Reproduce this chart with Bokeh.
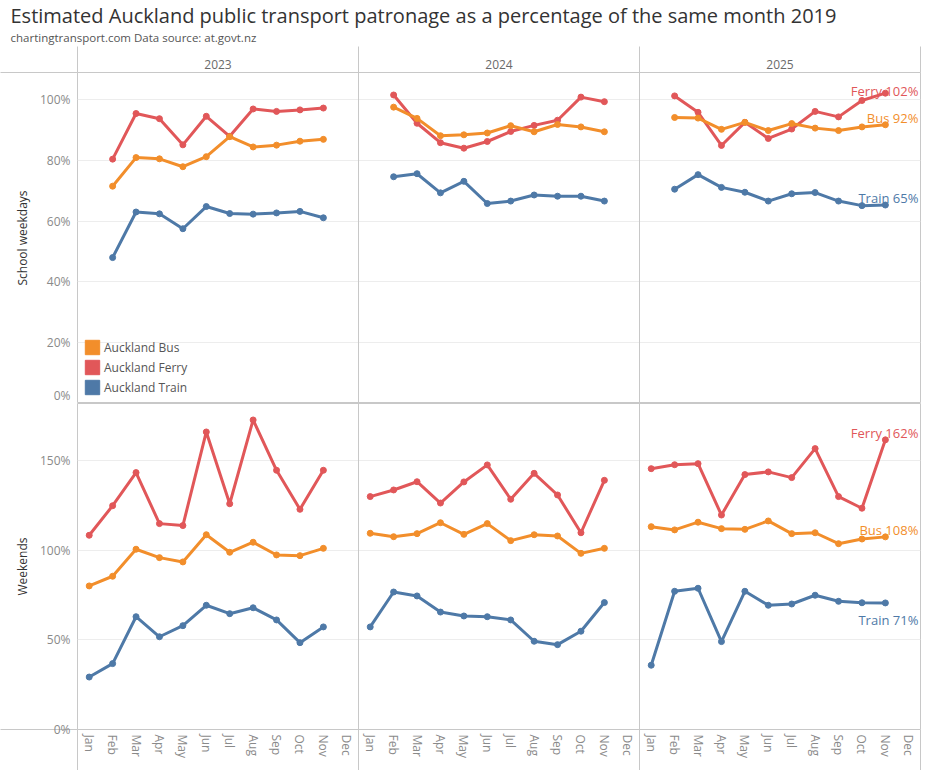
import math
from bokeh.plotting import figure
from bokeh.layouts import column
from bokeh.models import ColumnDataSource, FixedTicker, LinearAxis, Span, Title, Legend, LegendItem, Range1d
from bokeh.embed import file_html
from bokeh.resources import INLINE
from bokeh.core.properties import value

nan = float("nan")

years = ["2023", "2024", "2025"]
months = ["Jan", "Feb", "Mar", "Apr", "May", "Jun", "Jul", "Aug", "Sep", "Oct", "Nov", "Dec"]
modes = ["Bus", "Ferry", "Train"]
legend_names = ["Auckland Bus", "Auckland Ferry", "Auckland Train"]
colors = {"Bus": "#F28E2B", "Ferry": "#E15759", "Train": "#4E79A7"}

school_ticks = [0, 20, 40, 60, 80, 100]
weekend_ticks = [0, 50, 100, 150]

# School weekdays, % of same month 2019 (per year: Jan..Dec)
school_bus = [
    [nan, 71.5, 80.9, 80.5, 77.9, 81.2, 87.8, 84.4, 85.0, 86.3, 86.9, nan],
    [nan, 97.5, 93.8, 88.1, 88.4, 89.0, 91.4, 89.4, 91.8, 91.0, 89.4, nan],
    [nan, 94.1, 93.9, 90.2, 92.5, 89.8, 92.1, 90.6, 89.8, 91.0, 91.7, nan],
]
school_ferry = [
    [nan, 80.4, 95.4, 93.7, 85.1, 94.5, 87.9, 96.9, 96.1, 96.6, 97.2, nan],
    [nan, 101.5, 92.2, 85.8, 84.0, 86.2, 89.5, 91.5, 93.2, 100.8, 99.3, nan],
    [nan, 101.2, 95.8, 84.9, 92.5, 87.2, 90.3, 96.1, 94.3, 99.7, 102.1, nan],
]
school_train = [
    [nan, 48.0, 63.0, 62.4, 57.5, 64.8, 62.5, 62.3, 62.7, 63.2, 61.1, nan],
    [nan, 74.6, 75.6, 69.3, 73.1, 65.8, 66.6, 68.6, 68.2, 68.2, 66.6, nan],
    [nan, 70.5, 75.3, 71.1, 69.5, 66.6, 69.0, 69.4, 66.6, 65.1, 65.3, nan],
]

# Weekends, % of same month 2019
weekend_bus = [
    [80.2, 85.6, 100.7, 96.0, 93.6, 108.8, 99.0, 104.6, 97.5, 97.1, 101.2, nan],
    [109.6, 107.7, 109.4, 115.5, 109.0, 115.0, 105.5, 108.8, 108.1, 98.4, 101.2, nan],
    [113.3, 111.5, 115.8, 112.2, 111.8, 116.5, 109.4, 109.9, 103.8, 106.4, 107.6, nan],
]
weekend_ferry = [
    [108.5, 125.0, 143.5, 115.0, 113.9, 166.2, 126.1, 172.9, 144.8, 123.0, 144.8, nan],
    [130.1, 133.8, 138.4, 126.5, 138.3, 147.8, 128.6, 143.1, 131.0, 109.9, 139.2, nan],
    [145.7, 147.9, 148.5, 119.8, 142.4, 143.9, 140.7, 156.9, 130.1, 123.6, 161.8, nan],
]
weekend_train = [
    [29.3, 36.8, 63.0, 51.8, 58.0, 69.4, 64.7, 68.0, 61.2, 48.5, 57.3, nan],
    [57.3, 76.8, 74.6, 65.6, 63.4, 63.0, 61.2, 49.3, 47.4, 54.9, 70.9, nan],
    [35.9, 77.2, 78.9, 49.1, 77.2, 69.4, 70.1, 75.0, 71.6, 70.8, 70.7, nan],
]

school = {"Bus": school_bus, "Ferry": school_ferry, "Train": school_train}
weekend = {"Bus": weekend_bus, "Ferry": weekend_ferry, "Train": weekend_train}

FONT = "Open Sans"
GRID = "#c8c8c8"
W = 922
NX = len(years) * len(months)
LEFT = 77
BOTTOM = 41


def pos(yi, mi):
    return yi * len(months) + mi + 0.5


def style_y(fig, ticks, minor, label):
    ax = fig.yaxis[0]
    ax.ticker = FixedTicker(ticks=ticks, minor_ticks=minor)
    ax.major_label_overrides = {t: f"{t}%" for t in ticks}
    ax.major_tick_line_color = None
    ax.major_tick_out = 0
    ax.major_tick_in = 0
    ax.minor_tick_in = 0
    ax.minor_tick_out = LEFT
    ax.minor_tick_line_color = GRID
    ax.axis_line_color = None
    ax.major_label_standoff = 7 - LEFT
    ax.major_label_text_font = FONT
    ax.major_label_text_font_size = "12px"
    ax.major_label_text_color = "#8a8a8a"
    ax.axis_label = label
    ax.axis_label_text_font = FONT
    ax.axis_label_text_font_size = "12px"
    ax.axis_label_text_font_style = "normal"
    ax.axis_label_text_color = "#333333"
    ax.axis_label_standoff = 6
    fig.ygrid.grid_line_color = "#ededed"
    fig.xgrid.grid_line_color = None
    fig.outline_line_color = GRID
    for loc in (12, 24):
        fig.add_layout(Span(location=loc, dimension="height", line_color=GRID, line_width=1))


def draw(fig, series):
    for mode in ["Train", "Ferry", "Bus"]:
        for yi, vals in enumerate(series[mode]):
            src = ColumnDataSource(dict(x=[pos(yi, mi) for mi in range(len(months))], y=vals))
            fig.line("x", "y", source=src, line_width=3, line_color=colors[mode], line_join="round")
            fig.scatter("x", "y", source=src, size=6, color=colors[mode])


def end_labels(fig, series, yoffs):
    d = dict(x=[], y=[], text=[], color=[], yoff=[])
    for mode in modes:
        vals = series[mode][-1]
        idx = max(i for i, v in enumerate(vals) if not math.isnan(v))
        d["x"].append(pos(len(years) - 1, idx))
        d["y"].append(vals[idx])
        d["text"].append(f"{mode} {round(vals[idx])}%")
        d["color"].append(colors[mode])
        d["yoff"].append(yoffs[mode])
    fig.text(x="x", y="y", text="text", source=ColumnDataSource(d), text_color="color",
             text_align="right", text_baseline="alphabetic", x_offset=33, y_offset="yoff",
             text_font=value(FONT), text_font_size="13px")


# ---------------- top: school weekdays ----------------
top_max = 108.9
top = figure(width=W, height=403, x_range=Range1d(0, NX), y_range=Range1d(0, top_max),
             output_backend="svg", toolbar_location=None, x_axis_location=None,
             min_border_left=LEFT, min_border_right=2, min_border_top=72, min_border_bottom=0,
             background_fill_color="white", border_fill_color="white")
style_y(top, school_ticks, [top_max], "School weekdays")

year_axis = LinearAxis(
    ticker=FixedTicker(ticks=[pos(i, 5.5) for i in range(len(years))],
                       minor_ticks=[i * len(months) for i in range(len(years) + 1)]),
    major_label_overrides={pos(i, 5.5): y for i, y in enumerate(years)},
    major_tick_line_color=None, major_tick_out=0, major_tick_in=0,
    minor_tick_in=0, minor_tick_out=26, minor_tick_line_color=GRID,
    axis_line_color=None, major_label_standoff=-22,
    major_label_text_font=FONT, major_label_text_font_size="12px",
    major_label_text_color="#6a6a6a",
    axis_label=" ", axis_label_text_font_size="1px", axis_label_standoff=5)
top.add_layout(year_axis, "above")

sub = Title(text="chartingtransport.com  Data source: at.govt.nz", text_font=FONT,
            text_font_size="11.5px", text_font_style="normal", text_color="#555555",
            offset=-67, standoff=6)
top.add_layout(sub, "above")
top.title.text = "Estimated Auckland public transport patronage as a percentage of the same month 2019"
top.title.text_font = FONT
top.title.text_font_size = "20px"
top.title.text_font_style = "normal"
top.title.text_color = "#333333"
top.title.offset = -67
top.title.standoff = -9

draw(top, school)
end_labels(top, school, {"Ferry": -2, "Bus": -7, "Train": -7})

# legend (colour swatches)
items = []
for mode, name in zip(modes, legend_names):
    r = top.rect(x=[nan], y=[nan], width=1, height=1, fill_color=colors[mode], line_color=colors[mode])
    items.append(LegendItem(label=name, renderers=[r]))
legend = Legend(items=items, location=(6, 7), padding=0, margin=0, spacing=2,
                glyph_width=18, glyph_height=18, label_height=18, label_standoff=3,
                label_text_font=FONT, label_text_font_size="12px", label_text_color="#555555",
                border_line_color=None, background_fill_alpha=0)
top.add_layout(legend, "center")

# ---------------- bottom: weekends ----------------
bot_max = 182.1
bot = figure(width=W, height=367, x_range=top.x_range, y_range=Range1d(0, bot_max),
             output_backend="svg", toolbar_location=None,
             min_border_left=LEFT, min_border_right=2, min_border_top=0, min_border_bottom=BOTTOM,
             background_fill_color="white", border_fill_color="white")
style_y(bot, weekend_ticks, [0], "Weekends")
xa = bot.xaxis[0]
xa.ticker = FixedTicker(ticks=[pos(yi, mi) for yi in range(len(years)) for mi in range(len(months))],
                        minor_ticks=[i * len(months) for i in range(len(years) + 1)])
xa.major_label_overrides = {pos(yi, mi): m for yi in range(len(years)) for mi, m in enumerate(months)}
xa.major_label_orientation = "vertical"
xa.major_tick_line_color = None
xa.major_tick_out = 0
xa.major_tick_in = 0
xa.minor_tick_in = 0
xa.minor_tick_out = BOTTOM
xa.minor_tick_line_color = GRID
xa.axis_line_color = None
xa.major_label_standoff = 5 - BOTTOM
xa.major_label_text_font = FONT
xa.major_label_text_font_size = "12px"
xa.major_label_text_color = "#8a8a8a"

draw(bot, weekend)
end_labels(bot, weekend, {"Ferry": -7, "Bus": -7, "Train": 17})

p = column(top, bot, spacing=0)
open("out.html", "w").write(file_html(p, INLINE))
